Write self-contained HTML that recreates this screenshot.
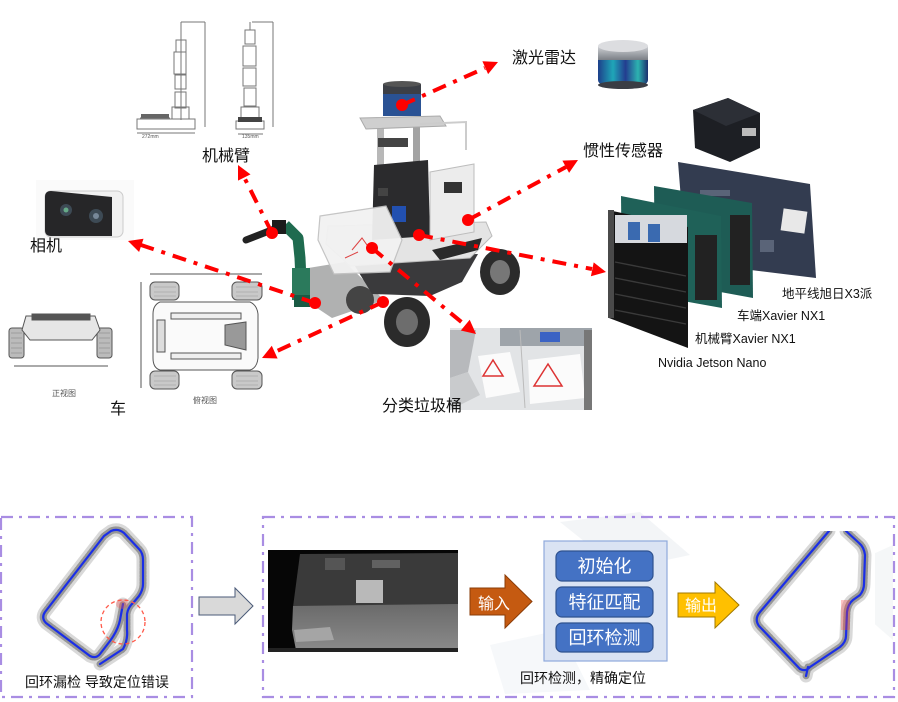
<!DOCTYPE html>
<html><head><meta charset="utf-8"><style>
html,body{margin:0;padding:0;background:#fff;}
svg{display:block;}
text{font-family:"Liberation Sans","Noto Sans CJK SC",sans-serif;}
</style></head><body>
<svg width="898" height="702" viewBox="0 0 898 702" xmlns="http://www.w3.org/2000/svg">
<defs>
<linearGradient id="lid" x1="0" x2="1"><stop offset="0" stop-color="#1d3f8a"/><stop offset=".3" stop-color="#1fa6b8"/><stop offset=".55" stop-color="#233d8f"/><stop offset=".8" stop-color="#2cb3b0"/><stop offset="1" stop-color="#1d2f6e"/></linearGradient>
<linearGradient id="lidtop" x1="0" x2="0" y1="0" y2="1"><stop offset="0" stop-color="#d0d2d6"/><stop offset="1" stop-color="#7b7f86"/></linearGradient>
<linearGradient id="floor" x1="0" x2="0" y1="0" y2="1"><stop offset="0" stop-color="#6a6a6a"/><stop offset="1" stop-color="#8a8a8a"/></linearGradient>
</defs>

<!-- ============ TOP: arm drawings ============ -->
<g stroke="#777" stroke-width="1" fill="none">
  <line x1="181" y1="22" x2="181" y2="120"/>
  <rect x="176" y="40" width="10" height="12"/>
  <rect x="174" y="52" width="12" height="22"/>
  <rect x="175" y="75" width="11" height="14"/>
  <rect x="175" y="92" width="11" height="16"/>
  <rect x="172" y="107" width="17" height="12"/>
  <rect x="137" y="119" width="58" height="10"/>
  <line x1="140" y1="118" x2="170" y2="118"/>
  <line x1="181" y1="22" x2="205" y2="22"/><line x1="205" y1="22" x2="205" y2="127"/>
  <line x1="137" y1="133" x2="195" y2="133"/>
  <line x1="250" y1="22" x2="250" y2="30"/>
  <rect x="245" y="30" width="10" height="14"/>
  <rect x="243" y="46" width="13" height="20"/>
  <rect x="243" y="68" width="13" height="18"/>
  <rect x="244" y="88" width="12" height="18"/>
  <rect x="241" y="107" width="18" height="14"/>
  <rect x="236" y="121" width="28" height="8"/>
  <line x1="252" y1="22" x2="273" y2="22"/><line x1="273" y1="22" x2="273" y2="127"/>
  <line x1="238" y1="134" x2="263" y2="134"/>
</g>
<g fill="#555" font-size="5"><text x="142" y="138">272mm</text><text x="242" y="138">135mm</text></g>
<rect x="238" y="117" width="24" height="5" fill="#444"/>
<rect x="141" y="114" width="28" height="4" fill="#666"/>

<!-- camera -->
<rect x="36" y="180" width="98" height="60" fill="#fafafa"/>
<rect x="45" y="191" width="78" height="46" rx="6" fill="#f1f1f1" stroke="#ccc"/>
<path d="M51,191 L112,197 L112,236 L51,236 Q45,236 45,230 L45,197 Q45,191 51,191Z" fill="#262628"/>
<circle cx="66" cy="210" r="6" fill="#3d4a55"/><circle cx="66" cy="210" r="2.5" fill="#6a8"/>
<circle cx="96" cy="216" r="7" fill="#3d4a55"/><circle cx="96" cy="216" r="3" fill="#789"/>

<!-- car front view -->
<g stroke="#555" stroke-width="1" fill="#fff">
  <rect x="9" y="328" width="15" height="30" rx="3" fill="#bbb"/>
  <rect x="97" y="328" width="15" height="30" rx="3" fill="#bbb"/>
  <path d="M26,316 L95,316 L100,330 L92,340 L30,340 L22,330Z" fill="#e6e6e6"/>
  <rect x="32" y="314" width="58" height="6" fill="#555"/>
  <line x1="14" y1="366" x2="108" y2="366"/>
</g>
<g stroke="#888" stroke-width=".6"><line x1="11" y1="333" x2="22" y2="333"/><line x1="11" y1="338" x2="22" y2="338"/><line x1="11" y1="343" x2="22" y2="343"/><line x1="11" y1="348" x2="22" y2="348"/><line x1="11" y1="353" x2="22" y2="353"/><line x1="99" y1="333" x2="110" y2="333"/><line x1="99" y1="338" x2="110" y2="338"/><line x1="99" y1="343" x2="110" y2="343"/><line x1="99" y1="348" x2="110" y2="348"/><line x1="99" y1="353" x2="110" y2="353"/></g>
<text x="52" y="396" font-size="8" fill="#555">正视图</text>

<!-- car top view -->
<g stroke="#555" stroke-width="1">
  <line x1="150" y1="274" x2="262" y2="274" fill="none"/>
  <line x1="141" y1="282" x2="141" y2="388" fill="none"/>
  <rect x="150" y="282" width="29" height="18" rx="5" fill="#c9c9c9"/>
  <rect x="232" y="282" width="30" height="18" rx="5" fill="#c9c9c9"/>
  <rect x="150" y="371" width="29" height="18" rx="5" fill="#c9c9c9"/>
  <rect x="232" y="371" width="30" height="18" rx="5" fill="#c9c9c9"/>
  <path d="M160,302 L250,302 Q257,305 258,314 L258,358 Q257,368 250,370 L160,370 Q153,368 153,358 L153,314 Q153,305 160,302Z" fill="#fafafa"/>
  <rect x="171" y="313" width="70" height="6" fill="#eee"/>
  <rect x="171" y="353" width="70" height="6" fill="#eee"/>
  <path d="M225,325 L246,322 L246,350 L225,345Z" fill="#999"/>
  <rect x="157" y="320" width="8" height="32" fill="#ddd"/>
</g>
<g stroke="#999" stroke-width=".6"><line x1="154" y1="287" x2="176" y2="287"/><line x1="154" y1="292" x2="176" y2="292"/><line x1="154" y1="296" x2="176" y2="296"/><line x1="236" y1="287" x2="258" y2="287"/><line x1="236" y1="292" x2="258" y2="292"/><line x1="236" y1="296" x2="258" y2="296"/><line x1="154" y1="376" x2="176" y2="376"/><line x1="154" y1="381" x2="176" y2="381"/><line x1="154" y1="385" x2="176" y2="385"/><line x1="236" y1="376" x2="258" y2="376"/><line x1="236" y1="381" x2="258" y2="381"/><line x1="236" y1="385" x2="258" y2="385"/></g>
<text x="193" y="403" font-size="8" fill="#555">俯视图</text>

<!-- lidar product -->
<rect x="598" y="48" width="50" height="36" rx="4" fill="url(#lid)"/>
<ellipse cx="623" cy="85" rx="25" ry="4" fill="#3a3d44"/>
<rect x="598" y="46" width="50" height="14" fill="url(#lidtop)"/>
<ellipse cx="623" cy="46" rx="25" ry="6" fill="#dcdde0"/>

<!-- IMU -->
<path d="M693,110 L728,98 L760,113 L760,148 L730,162 L695,148Z" fill="#1d1f24"/>
<path d="M693,110 L728,98 L760,113 L726,126Z" fill="#2c2f36"/>
<rect x="742" y="128" width="14" height="8" fill="#bbb"/>

<!-- boards -->
<path d="M678,162 L810,184 L816,278 L686,262Z" fill="#333c50"/>
<g fill="#5a6478"><rect x="700" y="190" width="30" height="6"/><rect x="730" y="230" width="20" height="14"/><rect x="760" y="240" width="14" height="12"/><rect x="700" y="240" width="10" height="10"/></g>
<rect x="782" y="210" width="24" height="22" fill="#e8e8e8" transform="rotate(8 794 221)"/>
<path d="M654,186 L752,203 L753,298 L655,280Z" fill="#1e5c55"/>
<rect x="730" y="215" width="20" height="70" fill="#222"/>
<path d="M621,196 L721,216 L722,308 L622,290Z" fill="#1f6158"/>
<rect x="695" y="235" width="22" height="65" fill="#222"/>
<path d="M608,210 L688,227 L688,348 L609,318Z" fill="#141414"/>
<rect x="615" y="215" width="72" height="28" fill="#d6d9de"/>
<g fill="#3a6ab0"><rect x="628" y="222" width="12" height="18"/><rect x="648" y="224" width="12" height="18"/></g>
<g stroke="#3a3a3a" stroke-width="1.4"><line x1="615" y1="262" x2="686" y2="276"/><line x1="615" y1="278" x2="686" y2="292"/><line x1="615" y1="294" x2="686" y2="308"/><line x1="615" y1="310" x2="686" y2="324"/></g>
<rect x="608" y="210" width="6" height="108" fill="#4a4a4a"/>

<!-- ============ robot photo ============ -->
<path d="M296,270 L345,262 L384,300 L332,318 L296,294Z" fill="#8f9090" opacity=".7"/>
<ellipse cx="500" cy="272" rx="20" ry="23" fill="#2b2b2b"/>
<ellipse cx="500" cy="272" rx="10" ry="12" fill="#777"/>
<ellipse cx="407" cy="322" rx="23" ry="25" fill="#2b2b2b"/>
<ellipse cx="407" cy="322" rx="11" ry="13" fill="#6d6d6d"/>
<ellipse cx="360" cy="300" rx="14" ry="14" fill="#444"/>
<path d="M350,258 L478,254 L462,282 L430,296 L372,294Z" fill="#3a3a3c"/>
<path d="M328,226 L486,222 L492,236 L470,258 L350,266 L326,244Z" fill="#e4e4e4" stroke="#bbb"/>
<path d="M432,250 L482,238 L478,250 L440,260Z" fill="#2a2a2a"/>
<rect x="377" y="122" width="7" height="110" fill="#b8b8b8"/>
<rect x="413" y="122" width="7" height="105" fill="#a3a3a3"/>
<path d="M374,165 L428,160 L430,236 L372,240Z" fill="#2b2b2d"/>
<rect x="392" y="206" width="14" height="16" fill="#2250b0"/>
<rect x="378" y="188" width="10" height="8" fill="#444"/>
<path d="M360,118 L440,116 L446,126 L366,129Z" fill="#cfcfcf" stroke="#aaa"/>
<rect x="378" y="138" width="30" height="9" fill="#444"/>
<path d="M420,124 L466,122 L466,150" fill="none" stroke="#ccc" stroke-width="2"/>
<path d="M430,172 L474,164 L474,232 L430,240Z" fill="#ececec" stroke="#bdbdbd"/>
<rect x="444" y="182" width="18" height="11" fill="#333"/>
<rect x="383" y="88" width="38" height="28" fill="#2a5294"/>
<rect x="383" y="84" width="38" height="10" fill="#3c3f46"/>
<ellipse cx="402" cy="84" rx="19" ry="3" fill="#555"/>
<path d="M320,216 L386,206 L402,240 L390,272 L334,274 L318,240Z" fill="#f2f2f2" stroke="#c2c2c2" stroke-width="1.2" opacity=".95"/>
<path d="M352,250 L362,238 L372,252 M345,258 L358,252" stroke="#d44" stroke-width="1" fill="none"/>
<path d="M302,302 L300,258 L298,238 L285,225" stroke="#1f6b4f" stroke-width="11" fill="none" stroke-linejoin="round"/>
<rect x="292" y="268" width="18" height="32" fill="#2b7a5c"/>
<rect x="294" y="295" width="16" height="12" fill="#1a5a44"/>
<path d="M282,226 L246,240" stroke="#222" stroke-width="7" stroke-linecap="round"/>
<rect x="272" y="220" width="14" height="14" fill="#1c1c1c"/>

<!-- bin photo -->
<rect x="450" y="328" width="142" height="82" fill="#e2e4e6"/>
<path d="M450,330 L476,330 L468,372 L450,378Z" fill="#b7b9bc"/>
<path d="M450,378 L468,372 L480,395 L450,410Z" fill="#c9cbcd"/>
<rect x="500" y="328" width="92" height="18" fill="#9ea4aa"/>
<rect x="540" y="332" width="20" height="10" fill="#3b63c4"/>
<path d="M478,356 L510,352 L520,392 L486,398Z" fill="#fbfbfb"/>
<path d="M528,360 L580,354 L585,398 L530,404Z" fill="#fbfbfb"/>
<path d="M483,376 L493,360 L503,376 Z" fill="none" stroke="#d33" stroke-width="1.5"/>
<path d="M534,386 L548,364 L562,386 Z" fill="none" stroke="#d33" stroke-width="1.5"/>
<line x1="520" y1="330" x2="525" y2="408" stroke="#bbb"/>
<rect x="584" y="330" width="8" height="80" fill="#777"/>

<!-- ============ red dash-dot leaders ============ -->
<g stroke="#ff0000" stroke-width="4" fill="none" stroke-dasharray="14 8 4 8">
  <line x1="402" y1="105" x2="485" y2="68"/>
  <line x1="272" y1="233" x2="244" y2="177"/>
  <line x1="315" y1="303" x2="141" y2="245"/>
  <line x1="383" y1="302" x2="275" y2="352"/>
  <line x1="372" y1="248" x2="465" y2="325"/>
  <line x1="468" y1="220" x2="566" y2="167"/>
  <line x1="419" y1="235" x2="592" y2="269"/>
</g>
<g fill="#ff0000">
  <circle cx="402" cy="105" r="6"/>
  <circle cx="272" cy="233" r="6"/>
  <circle cx="315" cy="303" r="6"/>
  <circle cx="383" cy="302" r="6"/>
  <circle cx="372" cy="248" r="6"/>
  <circle cx="468" cy="220" r="6"/>
  <circle cx="419" cy="235" r="6"/>
  <polygon points="498,62 488.1,74.1 482.4,61.3"/>
  <polygon points="238,165 250.5,174.4 238,180.6"/>
  <polygon points="128,241 143.5,238.8 139.1,252"/>
  <polygon points="262,358 277.6,358.5 271.8,345.8"/>
  <polygon points="476,334 460.8,330.5 469.7,319.7"/>
  <polygon points="578,160 569.1,172.9 562.4,160.6"/>
  <polygon points="606,272 590.9,276.2 593.7,262.4"/>
</g>

<!-- top labels -->
<g font-size="16" fill="#111">
  <text x="512" y="63">激光雷达</text>
  <text x="583" y="156">惯性传感器</text>
  <text x="202" y="161">机械臂</text>
  <text x="30" y="251">相机</text>
  <text x="110" y="414">车</text>
  <text x="382" y="411">分类垃圾桶</text>
</g>
<g font-size="12.5" fill="#111">
  <text x="782" y="298">地平线旭日X3派</text>
  <text x="737" y="320">车端Xavier NX1</text>
  <text x="695" y="343">机械臂Xavier NX1</text>
  <text x="658" y="367">Nvidia Jetson Nano</text>
</g>

<!-- ============ BOTTOM ============ -->
<g opacity=".12">
  <path d="M560,522 L640,512 L690,555 L620,570Z" fill="#9fb0bf"/>
  <path d="M860,560 L893,545 L893,640 L870,620Z" fill="#a9bac8"/>
  <path d="M490,645 L560,630 L590,690 L505,694Z" fill="#b9c6d2"/>
</g>

<!-- left map -->
<rect x="30" y="520" width="130" height="146" fill="#fff"/>
<g fill="none" stroke-linejoin="round" stroke-linecap="round">
  <path d="M100,664 L123,649 Q128,640 127,630 L127,614 Q128,607 134,602 L139,596 Q143,590 143,584 L143,560 Q143,553 139,549 L124,533 Q118,528 111,531 L104,536 L45,612 Q41,618 46,623 L90,656 Q96,659 100,654 L110,641 Q118,630 120,620 L123,604" stroke="#666" stroke-width="13" opacity=".25"/>
  <path d="M100,664 L123,649 Q128,640 127,630 L127,614 Q128,607 134,602 L139,596 Q143,590 143,584 L143,560 Q143,553 139,549 L124,533 Q118,528 111,531 L104,536 L45,612 Q41,618 46,623 L90,656 Q96,659 100,654 L110,641 Q118,630 120,620 L123,604" stroke="#333" stroke-width="7" opacity=".4" stroke-dasharray="2 1.5"/>
  <path d="M100,664 L123,649 Q128,640 127,630 L127,614 Q128,607 134,602 L139,596 Q143,590 143,584 L143,560 Q143,553 139,549 L124,533 Q118,528 111,531 L104,536 L45,612 Q41,618 46,623 L90,656 Q96,659 100,654 L110,641 Q118,630 120,620 L123,604" stroke="#1a2ee8" stroke-width="2.2"/>
</g>
<ellipse cx="122" cy="604" rx="6" ry="5" fill="#e55" opacity=".35"/>
<circle cx="123" cy="622" r="22" fill="none" stroke="#ff5a4a" stroke-width="1.3" stroke-dasharray="4 3"/>
<text x="25" y="687" font-size="14" fill="#111">回环漏检  导致定位错误</text>

<!-- dashed boxes -->
<g fill="none" stroke="#a98de3" stroke-width="2.2" stroke-dasharray="12 6 3 6">
  <rect x="1" y="517" width="191" height="180"/>
  <rect x="263" y="517" width="631" height="180"/>
</g>

<!-- gray arrow -->
<polygon points="199,597 235,597 235,588 253,606 235,624 235,615 199,615" fill="#d9d9d9" stroke="#4a5a78" stroke-width="1"/>

<!-- depth image -->
<rect x="268" y="550" width="190" height="102" fill="#060606"/>
<path d="M300,554 L458,553 L458,605 L293,607 Z" fill="#3a3a3a"/>
<path d="M293,606 L458,604 L458,648 L296,650 L292,630Z" fill="url(#floor)"/>
<rect x="356" y="580" width="27" height="23" fill="#b9b9b9"/>
<rect x="325" y="558" width="20" height="12" fill="#555"/>
<rect x="372" y="560" width="28" height="8" fill="#616161"/>
<path d="M294,630 L330,627 L334,640 L296,642Z" fill="#a5a5a5"/>
<rect x="268" y="648" width="190" height="4" fill="#222"/>

<!-- orange arrow -->
<polygon points="470,588 505,588 505,575 532,601.5 505,628 505,615 470,615" fill="#c55a11" stroke="#8a3c08" stroke-width="1"/>
<text x="478" y="609" font-size="16" fill="#fff">输入</text>

<!-- panel -->
<rect x="544" y="541" width="123" height="120" fill="#dae3f3" stroke="#8faadc" stroke-width="1.2"/>
<g fill="#4472c4" stroke="#2f528f" stroke-width="1.2">
  <rect x="556" y="551" width="97" height="30" rx="6"/>
  <rect x="556" y="587" width="97" height="30" rx="6"/>
  <rect x="556" y="623" width="97" height="29" rx="6"/>
</g>
<g font-size="18" fill="#fff" text-anchor="middle">
  <text x="604.5" y="572.5">初始化</text>
  <text x="604.5" y="608.5">特征匹配</text>
  <text x="604.5" y="644">回环检测</text>
</g>
<text x="520" y="683" font-size="14" fill="#111">回环检测，精确定位</text>

<!-- yellow arrow -->
<polygon points="678,593 715,593 715,582 739,605 715,628 715,617 678,617" fill="#ffc000" stroke="#a07800" stroke-width="1"/>
<text x="685" y="611" font-size="16" fill="#fff">输出</text>

<!-- right map -->
<rect x="745" y="530" width="130" height="146" fill="#fff"/>
<g fill="none" stroke-linejoin="round" stroke-linecap="round">
  <path d="M829,531 L760,612 Q754,619 759,626 L800,669 Q806,672 810,667 L840,647 Q846,642 846,636 L847,612 Q848,604 853,600 L860,595 Q864,590 864,584 L865,555 Q864,547 859,543 L846,531 M808,667 L806,676" stroke="#666" stroke-width="13" opacity=".25"/>
  <path d="M829,531 L760,612 Q754,619 759,626 L800,669 Q806,672 810,667 L840,647 Q846,642 846,636 L847,612 Q848,604 853,600 L860,595 Q864,590 864,584 L865,555 Q864,547 859,543 L846,531 M808,667 L806,676" stroke="#333" stroke-width="7" opacity=".4" stroke-dasharray="2 1.5"/>
  <path d="M829,531 L760,612 Q754,619 759,626 L800,669 Q806,672 810,667 L840,647 Q846,642 846,636 L847,612 Q848,604 853,600 L860,595 Q864,590 864,584 L865,555 Q864,547 859,543 L846,531 M808,667 L806,676" stroke="#1a2ee8" stroke-width="2.2"/>
</g>
<rect x="841" y="600" width="9" height="30" fill="#ff4040" opacity=".3"/>
<rect x="743" y="522" width="134" height="9" fill="#fff"/>
</svg>
</body></html>
